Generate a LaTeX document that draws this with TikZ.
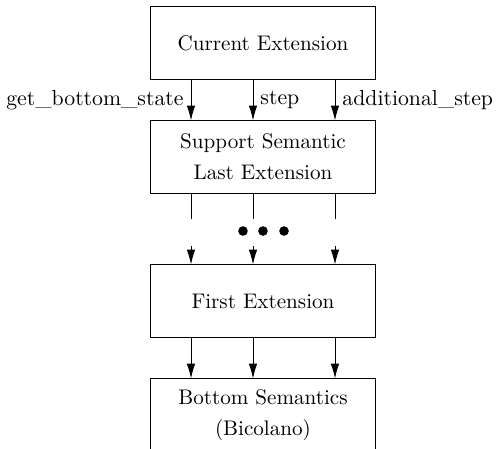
\documentclass[tikz,border=0pt]{standalone}
\usepackage{tikz}
\usetikzlibrary{positioning, arrows.meta, calc}

\begin{document}
\begin{tikzpicture}[
    >=Latex,
    layerbox/.style={
        rectangle, draw=black, line width=0.45pt,
        minimum width=3.76cm, minimum height=1.2cm,
        align=center, font=\fontsize{10pt}{14.6pt}\selectfont,
    },
    flow/.style={
        -{Latex[length=7pt, width=4pt]},
        line width=0.4pt,
    },
    stub/.style={line width=0.4pt},
    opname/.style={font=\fontsize{10.3pt}{12pt}\selectfont},
    gapdot/.style={circle, fill=black, inner sep=0pt, minimum size=0.16cm},
]

% fixed frame of the page
\useasboundingbox (0, 0) rectangle (8.32, -7.455);

% x offsets of the three call arrows
\def\xa{-1.198}
\def\xb{-0.166}
\def\xc{1.198}

% =============== Layer stack ===============
\node[layerbox] (current) at (4.376, -0.716) {Current Extension};
\node[layerbox] (support) at (4.376, -2.612) {Support Semantic\\Last Extension};
\node[layerbox] (first)   at (4.376, -5.009) {First Extension};
\node[layerbox] (bottom)  at (4.376, -6.906) {Bottom Semantics\\(Bicolano)};

% =============== Calls from the top layer ===============
\draw[flow] ([xshift=\xa cm]current.south) -- ([xshift=\xa cm]support.north)
    node[opname, midway, left] {get\_bottom\_state};
\draw[flow] ([xshift=\xb cm]current.south) -- ([xshift=\xb cm]support.north)
    node[opname, midway, right] {step};
\draw[flow] ([xshift=\xc cm]current.south) -- ([xshift=\xc cm]support.north)
    node[opname, midway, right] {additional\_step};

% =============== Elided layers ===============
\foreach \dx/\nm in {\xa/a, \xb/b, \xc/c} {
    \coordinate (cut-\nm) at ($([xshift=\dx cm]support.south)+(0, -0.42)$);
    \coordinate (resume-\nm) at ($([xshift=\dx cm]first.north)+(0, 0.31)$);
    \draw[stub] ([xshift=\dx cm]support.south) -- (cut-\nm);
    \draw[flow] (resume-\nm) -- ([xshift=\dx cm]first.north);
}
\node[gapdot] (dot1) at (4.043, -3.844) {};
\node[gapdot] (dot2) at (4.376, -3.844) {};
\node[gapdot] (dot3) at (4.726, -3.844) {};

% =============== Down to the bottom semantics ===============
\foreach \dx in {\xa, \xb, \xc}
    \draw[flow] ([xshift=\dx cm]first.south) -- ([xshift=\dx cm]bottom.north);

\end{tikzpicture}
\end{document}
